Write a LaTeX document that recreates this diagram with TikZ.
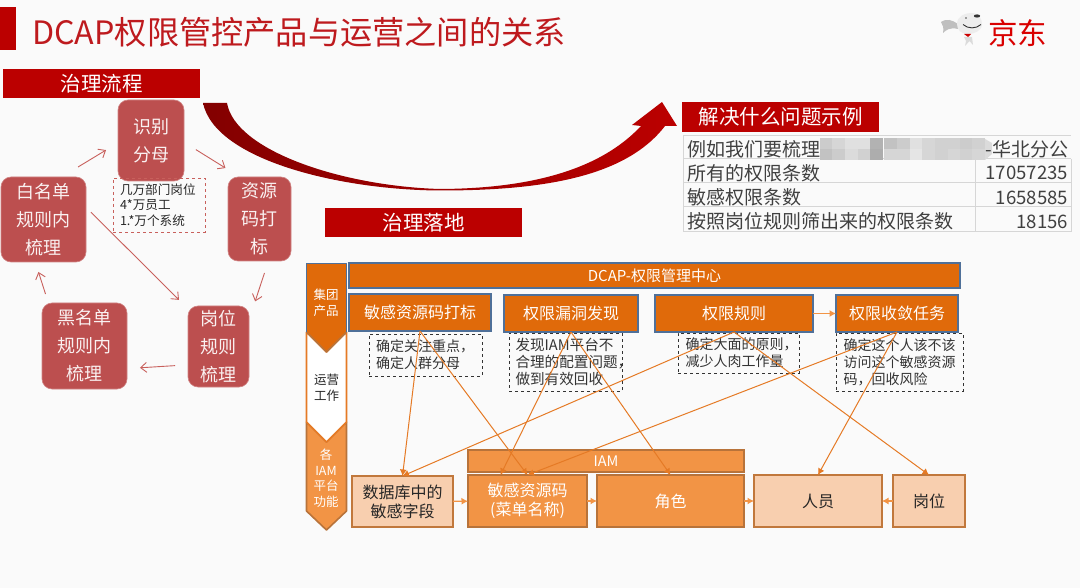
\documentclass[tikz,border=0pt]{standalone}
\usepackage{fontspec}
\setmainfont{Noto Sans CJK SC}
\usetikzlibrary{arrows.meta}
\definecolor{bgc}{HTML}{FAFAFA}
\definecolor{titlered}{HTML}{BE1A1E}
\definecolor{hdr}{HTML}{BB0000}
\definecolor{rnode}{HTML}{BC4F4F}
\definecolor{rline}{HTML}{C8605C}
\definecolor{dorange}{HTML}{E06A0A}
\definecolor{bluel}{HTML}{4F7099}
\definecolor{lorange}{HTML}{F29445}
\definecolor{lborder}{HTML}{B8733A}
\definecolor{peach}{HTML}{F8CFAF}
\definecolor{conn}{HTML}{E57A25}
\definecolor{tline}{HTML}{D6D6D6}
\definecolor{ttext}{HTML}{404040}
\newcommand{\fs}[2]{\fontsize{#1}{#2}\selectfont}
\tikzset{
  wh/.style 2 args={minimum width=#1pt,minimum height=#2pt},
  base/.style={inner sep=0pt,outer sep=0pt,align=center},
  header/.style={base,fill=hdr,text=white,font=\fs{20.5}{24}},
  flow/.style={base,fill=rnode,draw=rnode!70!white,line width=.6pt,rounded corners=10pt,text=white!92!rnode,font=\fs{18}{28}},
  flowarrow/.style={draw=rline,line width=.9pt,-{Straight Barb[length=6pt,width=10pt]}},
  product/.style={base,fill=dorange,draw=bluel,line width=2pt,text=white,font=\fs{16}{20}},
  note/.style={base,align=left,draw=black!80,dashed,line width=.9pt,text=black!80,font=\fs{14}{17}},
  iam/.style={base,fill=lorange,draw=lborder,line width=2pt,text=white,font=\fs{16}{19}},
  light/.style={base,fill=peach,draw=lborder!85!lorange,line width=2pt,text=black!85,font=\fs{16}{19}},
  link/.style={draw=conn,line width=1pt,-{Latex[length=6.5pt,width=7pt]}},
  shortarrow/.style={draw=lorange,line width=1.2pt,-{Latex[length=6.5pt,width=7pt]}},
  sidetext/.style={base,font=\fs{12.5}{16}},
  cell/.style={inner sep=0pt,outer sep=0pt,text=ttext,font=\fs{19}{22}},
  num/.style={inner sep=0pt,outer sep=0pt,text=ttext,font=\fs{18.6}{22}},
}
\begin{document}
\begin{tikzpicture}[x=1pt,y=-1pt]
\useasboundingbox (0,0) rectangle (1080,588);
\fill[bgc] (0,0) rectangle (1080,588);

% title
\fill[hdr] (0,7) rectangle (15.5,50);
\node[anchor=west,inner sep=0pt,text=titlered,font=\fs{32.2}{36}] (title) at (32,32) {DCAP权限管控产品与运营之间的关系};

% JD logo
\fill[black!25] (941,22) .. controls (947,18) and (952,20) .. (958,24) -- (958,29) .. controls (950,27) and (946,30) .. (943,33) .. controls (944,28) and (943,25) .. (941,22) -- cycle;
\fill[black!7] (957,24) .. controls (957,16) and (965,13) .. (971,13) .. controls (979,13) and (982,19) .. (982,24) .. controls (982,31) and (974,34) .. (968,34) .. controls (961,34) and (957,30) .. (957,24) -- cycle;
\fill[black!80] (977,16) ellipse (3.2pt and 1.6pt);
\fill[black!70] (966,18) circle (.8pt);
\draw[black!80,line width=.9pt] (963,24.5) .. controls (968,29) and (976,29) .. (981,24.5);
\fill[red!80!black] (964,34) -- (971,34) -- (968,37) -- cycle;
\fill[black!14] (964,37) -- (972,37) -- (973,45) -- (969.5,41) -- (965,46) -- (966,41) -- cycle;
\node[anchor=center,inner sep=0pt,text=red!85!black,font=\fs{29.5}{32}] (jd) at (1017.5,33.5) {京东};

% governance flow
\node[header,wh={197}{29}] (flowhdr) at (101.5,83.5) {治理流程};
\node[flow,wh={66}{81}] (shibie) at (151,140.5) {识别\\分母};
\node[flow,wh={85}{85}] (bai) at (43.5,219.5) {白名单\\规则内\\梳理};
\node[flow,wh={63}{84}] (ziyuan) at (259.5,219) {资源\\码打\\标};
\node[flow,wh={61}{81}] (gangwei) at (218.5,346.5) {岗位\\规则\\梳理};
\node[flow,wh={85}{86}] (hei) at (84.5,346) {黑名单\\规则内\\梳理};
\node[base,align=left,draw=rline,dashed,line width=.8pt,wh={92}{54},text=black!85,font=\fs{12.6}{15.2},text width=78pt] (fenmu) at (159,205) {几万部门岗位\\4*万员工\\1.*万个系统};
\draw[flowarrow,shorten <=19.3pt,shorten >=14pt] (bai.67) -- (shibie.184);
\draw[flowarrow,shorten <=14pt,shorten >=17pt] (shibie.-3.6) -- (ziyuan.115);
\draw[flowarrow,shorten <=12.6pt,shorten >=19.6pt] (ziyuan.-78.7) -- (gangwei.41);
\draw[flowarrow,shorten <=13pt,shorten >=13pt] (gangwei.211.6) -- (hei.-28);
\draw[flowarrow,shorten <=9.4pt,shorten >=10.5pt] (hei.130.4) -- (bai.-101.6);
\draw[flowarrow,shorten <=7pt,shorten >=12.7pt] (bai.16.4) -- (gangwei.129);

% big swoosh arrow
\path[left color=hdr!70!black,right color=hdr,middle color=hdr!85!black]
  (203,103) .. controls (215,160) and (340,190) .. (440,190.5)
  .. controls (540,190.5) and (625,178) .. (665,126)
  -- (677,126) -- (662,102) -- (632,125) -- (641,126)
  .. controls (600,170) and (530,188.5) .. (440,189)
  .. controls (340,186) and (235,150) .. (227,103) -- cycle;

% example table
\node[header,wh={197}{30}] (exhdr) at (780.5,117) {解决什么问题示例};
\draw[tline,line width=.8pt] (683,135) -- (1071,135);
\draw[tline,line width=1pt] (683,159) -- (1071,159) (683,183) -- (1071,183) (683,207) -- (1071,207) (683,232) -- (1071,232);
\draw[tline,line width=1pt] (683,135) -- (683,232) (975,159) -- (975,232) (1071,159) -- (1071,232);
\node[cell,anchor=west] (r1) at (687,149) {例如我们要梳理};
\foreach \x/\a/\b in {820/80/76,832/84/80,845/88/86,858/88/82,870/70/68,884/76/84,897/80/84,910/88/90,922/84/84,935/82/82,948/82/84,960/80/82,972/82/84}
  {\fill[black!\the\numexpr100-\a\relax] (\x,138) rectangle +(13.2,11);
   \fill[black!\the\numexpr100-\b\relax] (\x,149) rectangle +(13.2,11);}
\fill[black!14] (985,139) -- (992,143) -- (992,154) -- (985,160) -- cycle;
\node[cell,anchor=east] (r1b) at (1068,149) {-华北分公};
\node[cell,anchor=west] (r2) at (687,173) {所有的权限条数};
\node[num,anchor=east] (v2) at (1068,173) {17057235};
\node[cell,anchor=west] (r3) at (687,197) {敏感权限条数};
\node[num,anchor=east] (v3) at (1068,197.5) {1658585};
\node[cell,anchor=west] (r4) at (687,221.5) {按照岗位规则筛出来的权限条数};
\node[num,anchor=east] (v4) at (1068,222) {18156};

% landing
\node[header,wh={197}{29}] (landhdr) at (423.5,222.5) {治理落地};

% side chevrons
\draw[fill=lorange,draw=lborder,line width=1.6pt,line join=round] (306.5,422) -- (326.5,442) -- (346.5,422) -- (346.5,511) -- (326.5,530) -- (306.5,511) -- cycle;
\draw[fill=white,draw=conn,line width=1.6pt,line join=round] (306.5,332) -- (326.5,352) -- (346.5,332) -- (346.5,422) -- (326.5,442) -- (306.5,422) -- cycle;
\fill[dorange] (306.5,263.5) -- (346.5,263.5) -- (346.5,332) -- (326.5,352) -- (306.5,332) -- cycle;
\draw[lborder,line width=1.6pt,line join=round] (306.5,332) -- (326.5,352) -- (346.5,332);
\draw[bluel,line width=1.6pt,line join=round] (306.5,332) -- (306.5,263.5) -- (346.5,263.5) -- (346.5,332);
\node[sidetext,text=white] (sg) at (326,302.5) {集团\\产品};
\node[sidetext,text=black!85] (sy) at (326.5,387.5) {运营\\工作};
\node[sidetext,text=white,font=\fs{12.5}{15.5}] (si) at (326,478) {各\\IAM\\平台\\功能};

% dashed notes
\node[note,wh={113}{42},text width=99pt] (d1) at (425.5,355) {确定关注重点，\\确定人群分母};
\node[note,wh={113}{58},text width=100pt,font=\fs{14.6}{17}] (d2) at (565.5,362) {发现IAM平台不\\合理的配置问题，\\做到有效回收};
\node[note,wh={121}{40},text width=106pt] (d3) at (738.5,353) {确定大面的原则，\\减少人肉工作量};
\node[note,wh={127}{58},text width=112pt] (d4) at (899.5,362) {确定这个人该不该\\访问这个敏感资源\\码，回收风险};

% products
\node[product,wh={611}{25},font=\fs{15}{18}] (dcap) at (654.5,275.5) {DCAP-权限管理中心};
\node[product,wh={142}{37}] (p1) at (420,312.5) {敏感资源码打标};
\node[product,wh={134}{37}] (p2) at (571,313.5) {权限漏洞发现};
\node[product,wh={158}{37}] (p3) at (734,313.5) {权限规则};
\node[product,wh={122}{37}] (p4) at (897,313.5) {权限收敛任务};
\draw[shortarrow] (p3) -- (p4);

% IAM layer
\node[iam,wh={276}{22},font=\fs{14.5}{18}] (iambar) at (606,461) {IAM};
\node[light,wh={101}{51}] (b1) at (402.5,501.5) {数据库中的\\敏感字段};
\node[iam,wh={119}{52}] (b2) at (527.5,501) {敏感资源码\\(菜单名称)};
\node[iam,wh={147}{52}] (b3) at (670.5,501) {角色};
\node[light,wh={128}{52}] (b4) at (818,501) {人员};
\node[light,wh={72}{52}] (b5) at (929,501) {岗位};
\draw[shortarrow] (b1) -- (b2);
\draw[shortarrow] (b2) -- (b3);
\draw[shortarrow] (b3) -- (b4);
\draw[shortarrow] (b5) -- (b4);

% links
\draw[link] (p1.south) -- (b1.north);
\draw[link] (p1.south) -- (b2.north);
\draw[link] (p2.south) -- ([xshift=-27pt]b2.north);
\draw[link] (p2.south) -- (b3.north);
\draw[link] (p3.south) -- (b1.north);
\draw[link] (p3.south) -- (b5.north);
\draw[link] (p4.south) -- (b4.north);
\draw[link] (p4.south) -- (b2.north);
\end{tikzpicture}
\end{document}
